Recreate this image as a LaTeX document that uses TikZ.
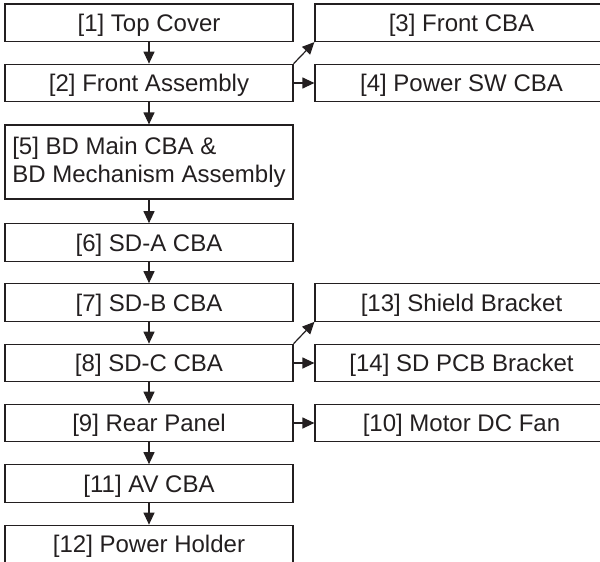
\documentclass[tikz,border=0pt]{standalone}
\usepackage{fontspec}
\setmainfont{Liberation Sans}
\usetikzlibrary{arrows.meta}
\definecolor{ink}{HTML}{231F20}
\begin{document}
\begin{tikzpicture}[x=1pt,y=-1pt,
  box/.style={draw=ink, line width=1.2pt, text=ink, inner sep=0pt,
    minimum height=37.5pt, text depth=0pt, font=\fontsize{24}{28}\selectfont},
  lbox/.style={box, minimum width=288pt},
  rbox/.style={box, minimum width=293pt},
  arr/.style={draw=ink, line width=1.2pt, -{Triangle[length=12pt,width=11pt]}}]
\clip (0,0) rectangle (600,562);
% left column
\node[lbox] (b1) at (149,22.75) {[1] Top Cover};
\node[lbox] (b2) at (149,83) {[2] Front Assembly};
\node[lbox, minimum height=74pt, align=left, text depth=5pt] (b5) at (149,162) {[5] BD Main CBA \&\\BD Mechanism Assembly};
\node[lbox] (b6) at (149,242.5) {[6] SD-A CBA};
\node[lbox] (b7) at (149,302.5) {[7] SD-B CBA};
\node[lbox] (b8) at (149,363) {[8] SD-C CBA};
\node[lbox] (b9) at (149,423) {[9] Rear Panel};
\node[lbox] (b11) at (149,483.5) {[11] AV CBA};
\node[lbox] (b12) at (149,544) {[12] Power Holder};
% right column
\node[rbox] (b3) at (461.5,22.75) {[3] Front CBA};
\node[rbox] (b4) at (461.5,83) {[4] Power SW CBA};
\node[rbox] (b13) at (461.5,302.5) {[13] Shield Bracket};
\node[rbox] (b14) at (461.5,363) {[14] SD PCB Bracket};
\node[rbox] (b10) at (461.5,423) {[10] Motor DC Fan};
% vertical arrows
\draw[arr] (b1.south) -- (b2.north);
\draw[arr] (b2.south) -- (b5.north);
\draw[arr] (b5.south) -- (b6.north);
\draw[arr] (b6.south) -- (b7.north);
\draw[arr] (b7.south) -- (b8.north);
\draw[arr] (b8.south) -- (b9.north);
\draw[arr] (b9.south) -- (b11.north);
\draw[arr] (b11.south) -- (b12.north);
% side arrows
\draw[arr] (b2.north east) -- (b3.south west);
\draw[arr] (b2.east) -- (b4.west);
\draw[arr] (b8.north east) -- (b13.south west);
\draw[arr] (b8.east) -- (b14.west);
\draw[arr] (b9.east) -- (b10.west);
\end{tikzpicture}
\end{document}
